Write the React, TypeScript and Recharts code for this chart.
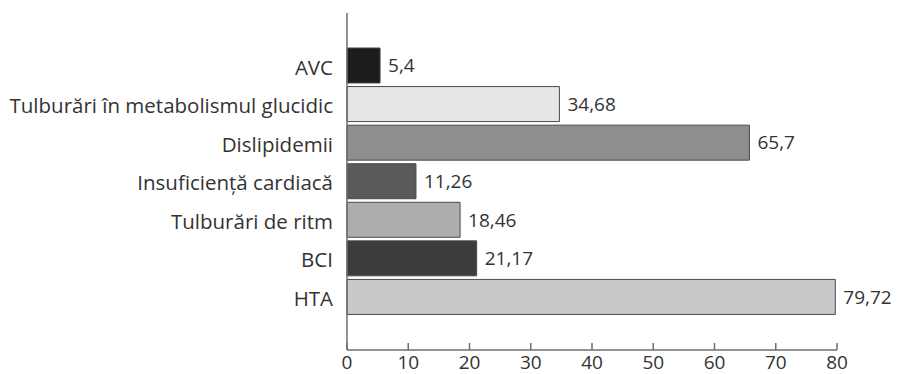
import { BarChart, Bar, XAxis, YAxis, Cell, LabelList } from "recharts";

const categories = [
  "AVC",
  "Tulburări în metabolismul glucidic",
  "Dislipidemii",
  "Insuficiență cardiacă",
  "Tulburări de ritm",
  "BCI",
  "HTA",
];
const values = [5.4, 34.68, 65.7, 11.26, 18.46, 21.17, 79.72];
const barColors = ["#1c1c1c", "#e6e6e6", "#8e8e8e", "#5a5a5a", "#adadad", "#3c3c3c", "#c9c9c9"];
const xTicks = [0, 10, 20, 30, 40, 50, 60, 70, 80];

const data = categories.map((name, i) => ({ name, value: values[i] }));

const font = "'Open Sans', sans-serif";

export default function App() {
  return (
    <div style={{ width: 891, height: 366, fontFamily: font }}>
      <BarChart
        width={891}
        height={366}
        data={data}
        layout="vertical"
        margin={{ top: 5, right: 62, left: 0, bottom: 0 }}
        barCategoryGap={2}
      >
        <XAxis
          type="number"
          domain={[0, 80]}
          ticks={xTicks}
          interval={0}
          height={24}
          stroke="#6e6e6e"
          strokeWidth={1.5}
          tickSize={-7}
          tickMargin={13}
          tick={{ fill: "#333", fontSize: 19, fontFamily: font }}
        />
        <YAxis
          type="category"
          dataKey="name"
          width={339}
          padding={{ top: 33, bottom: 34 }}
          stroke="#6e6e6e"
          strokeWidth={1.5}
          tickLine={false}
          tickMargin={8}
          tick={{ fill: "#333", fontSize: 20.5, fontFamily: font, dy: 2 }}
        />
        <Bar dataKey="value" stroke="#4a4a4a" strokeWidth={1} isAnimationActive={false}>
          {data.map((d, i) => (
            <Cell key={d.name} fill={barColors[i]} />
          ))}
          <LabelList
            dataKey="value"
            position="right"
            offset={8}
            formatter={(v: any) => String(v).replace(".", ",")}
            style={{ fill: "#333", fontSize: 19, fontFamily: font }}
          />
        </Bar>
      </BarChart>
    </div>
  );
}
